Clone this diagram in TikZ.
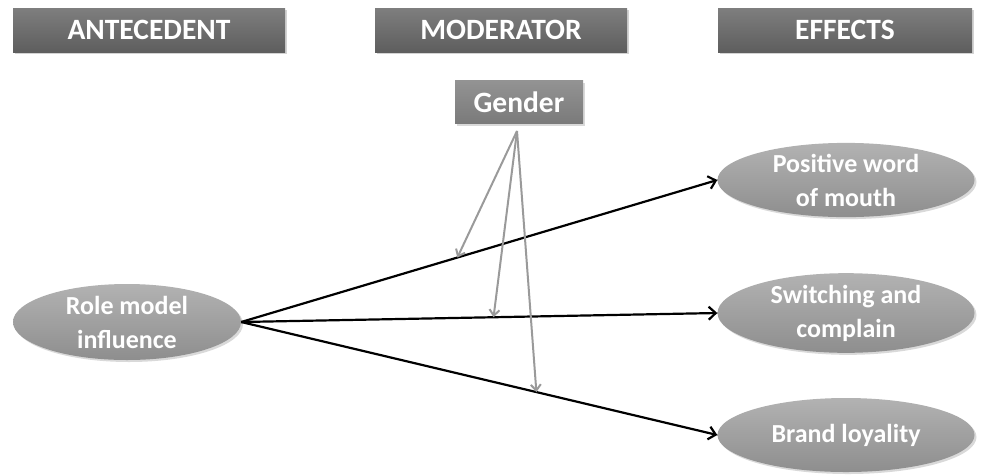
\documentclass[tikz,border=0pt]{standalone}
\usepackage{fontspec}
\setmainfont{Carlito}
\usetikzlibrary{shapes.geometric, shadows, arrows.meta}

\definecolor{hdtop}{HTML}{7E7E7E}
\definecolor{hdbot}{HTML}{5E5E5E}
\definecolor{gdtop}{HTML}{939393}
\definecolor{gdbot}{HTML}{7A7A7A}
\definecolor{eltop}{HTML}{B2B2B2}
\definecolor{elbot}{HTML}{8E8E8E}
\definecolor{modline}{HTML}{9A9A9A}

\begin{document}
\begin{tikzpicture}[x=1pt, y=-1pt,
    header/.style={rectangle, minimum width=272pt, minimum height=44pt,
        top color=hdtop, bottom color=hdbot, text=white,
        drop shadow={shadow xshift=2pt, shadow yshift=-2pt, opacity=0.35},
        font=\bfseries\fontsize{29.5}{32}\selectfont},
    factor/.style={ellipse, minimum width=257pt, minimum height=70pt,
        top color=eltop, bottom color=elbot, text=white, align=center,
        drop shadow={shadow xshift=2pt, shadow yshift=-2pt, opacity=0.3},
        font=\bfseries\fontsize{26}{34}\selectfont, inner sep=0pt},
    effect/.style={line width=2.2pt, -{Straight Barb[length=7pt, width=13pt]}},
    moderate/.style={line width=2pt, modline, -{Straight Barb[length=6pt, width=10pt]}}]

    \useasboundingbox (0,0) rectangle (982,475);

    % column headings
    \node (antecedent) at (149,30) [header] {ANTECEDENT};
    \node (moderator) at (501,30) [header, minimum width=252pt] {MODERATOR};
    \node (effects) at (845,30) [header, minimum width=254pt] {EFFECTS};

    % moderator box
    \node (gender) at (519,102) [rectangle, minimum width=128pt, minimum height=43pt,
        top color=gdtop, bottom color=gdbot, text=white,
        drop shadow={shadow xshift=2pt, shadow yshift=-2pt, opacity=0.3},
        font=\bfseries\fontsize{29.5}{32}\selectfont] {Gender};
    \coordinate (gfoot) at (517,131);

    % antecedent and effects
    \node (role) at (127,322) [factor, minimum width=228pt, minimum height=76pt] {Role model\\influence};
    \node (wom) at (846,180) [factor] {Positive word\\of mouth};
    \node (switch) at (846,313) [factor] {Switching and\\complain};
    \node (loyal) at (846,435) [factor, minimum height=74pt] {Brand loyality};

    \draw[effect] (role.east) -- coordinate[pos=0.454] (m1) (wom.west);
    \draw[effect] (role.east) -- coordinate[pos=0.53] (m2) (switch.west);
    \draw[effect] (role.east) -- coordinate[pos=0.62] (m3) (loyal.west);

    \draw[moderate] (gfoot) -- (m1);
    \draw[moderate] (gfoot) -- (m2);
    \draw[moderate] (gfoot) -- (m3);
\end{tikzpicture}
\end{document}
